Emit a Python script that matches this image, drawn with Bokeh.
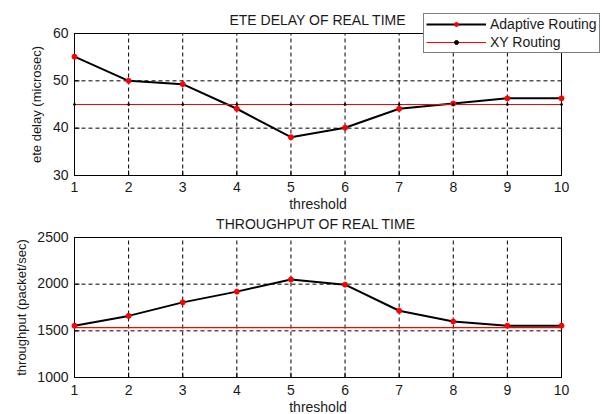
import math
from bokeh.plotting import figure
from bokeh.layouts import column
from bokeh.models import Legend, LegendItem, Range1d
from bokeh.core.properties import value
from bokeh.embed import file_html
from bokeh.resources import INLINE

threshold = [1, 2, 3, 4, 5, 6, 7, 8, 9, 10]
ete_adaptive = [55.1, 50.0, 49.3, 44.1, 38.1, 40.1, 44.1, 45.2, 46.3, 46.3]
ete_xy = [45, 45, 45, 45, 45, 45, 45, 45, 45, 45]
thr_adaptive = [1555, 1660, 1805, 1920, 2050, 1995, 1715, 1600, 1555, 1555]
thr_xy = [1535, 1535, 1535, 1535, 1535, 1535, 1535, 1535, 1535, 1535]
ete_yticks = [30, 40, 50, 60]
thr_yticks = [1000, 1500, 2000, 2500]
series_labels = ["Adaptive Routing", "XY Routing"]
titles = ["ETE DELAY OF REAL TIME", "THROUGHPUT  OF REAL TIME"]
xlabel = "threshold"
ylabels = ["ete delay (microsec)", "throughput (packet/sec)"]

FONT = value("Liberation Sans")
TXT = "#1a1a1a"
FS = value("14px")
FS_Y = value("13px")

W = 602
BOX_L, BOX_R = 74, 561          # pixel layout of the axes boxes
BOX_W = BOX_R - BOX_L
TOP_H, BOT_H = 212, 202


def panel(height, box_top, box_bottom, yticks, ys_adapt, ys_xy, title, ylabel,
          ylabel_dx, xtick_dy, xlabel_dy, xy_marker):
    x_span = threshold[-1] - threshold[0]
    ppx = BOX_W / x_span
    y_span = yticks[-1] - yticks[0]
    ppy = (box_bottom - box_top) / y_span
    p = figure(width=W, height=height, output_backend="svg", toolbar_location=None,
               x_axis_type=None, y_axis_type=None, min_border=0,
               x_range=Range1d(threshold[0] - BOX_L / ppx, threshold[-1] + (W - BOX_R) / ppx),
               y_range=Range1d(yticks[0] - (height - box_bottom) / ppy, yticks[-1] + box_top / ppy))
    p.outline_line_color = None
    p.background_fill_color = "white"
    p.border_fill_color = "white"

    # dashed grid
    p.segment(x0=threshold, x1=threshold, y0=yticks[0], y1=yticks[-1],
              line_color="black", line_width=1, line_dash="4 3")
    p.segment(x0=threshold[0], x1=threshold[-1], y0=yticks, y1=yticks,
              line_color="black", line_width=1, line_dash="4 3")
    # inward ticks
    p.ray(x=threshold, y=yticks[0], length=5, length_units="screen", angle=math.pi / 2,
          line_color="black", line_width=1)
    p.ray(x=threshold[0], y=yticks, length=5, length_units="screen", angle=0,
          line_color="black", line_width=1)
    # axes box
    p.quad(left=threshold[0], right=threshold[-1], bottom=yticks[0], top=yticks[-1],
           fill_color=None, line_color="black", line_width=1)

    a_line = p.line(threshold, ys_adapt, line_color="black", line_width=2)
    a_pts = p.scatter(threshold, ys_adapt, size=5, marker="circle",
                      fill_color="red", line_color="red")
    x_line = p.line(threshold, ys_xy, line_color="red", line_width=1.2)
    x_pts = None
    if xy_marker:
        x_pts = p.scatter(threshold, ys_xy, size=2, marker="circle",
                          fill_color="black", line_color="black")

    xmid = (threshold[0] + threshold[-1]) / 2
    ymid = (yticks[0] + yticks[-1]) / 2
    # tick labels
    p.text(x=threshold, y=yticks[0], text=[str(t) for t in threshold],
           text_align="center", text_baseline="alphabetic", y_offset=xtick_dy,
           text_font=FONT, text_font_size=FS, text_color=TXT)
    p.text(x=threshold[0], y=yticks, text=[str(v) for v in yticks],
           text_align="right", text_baseline="alphabetic", x_offset=-6, y_offset=-1,
           text_font=FONT, text_font_size=FS, text_color=TXT)
    # title and axis labels
    p.text(x=[xmid], y=[yticks[-1]], text=[title], text_align="center",
           text_baseline="alphabetic", y_offset=-14,
           text_font=FONT, text_font_size=FS, text_color=TXT)
    p.text(x=[xmid], y=[yticks[0]], text=[xlabel], text_align="center",
           text_baseline="alphabetic", y_offset=xlabel_dy,
           text_font=FONT, text_font_size=FS, text_color=TXT)
    p.text(x=[threshold[0]], y=[ymid], text=[ylabel], text_align="center",
           text_baseline="middle", angle=math.pi / 2, x_offset=ylabel_dx,
           text_font=FONT, text_font_size=FS_Y, text_color=TXT)
    return p, a_line, a_pts, x_line, x_pts


p1, a_line, a_pts, x_line, x_pts = panel(
    TOP_H, 33, 175, ete_yticks, ete_adaptive, ete_xy, titles[0], ylabels[0],
    -38, 11, 28, True)

legend = Legend(items=[LegendItem(label=series_labels[0], renderers=[a_line, a_pts]),
                       LegendItem(label=series_labels[1], renderers=[x_line, x_pts])],
                location=(423, TOP_H - 53))
legend.label_text_font = "Liberation Sans"
legend.label_text_font_size = "14px"
legend.label_text_color = TXT
legend.glyph_width = 60
legend.glyph_height = 10
legend.label_height = 16
legend.label_standoff = 4
legend.padding = 2
legend.spacing = 2
legend.margin = 0
legend.border_line_color = "black"
legend.border_line_width = 1.3
legend.background_fill_color = "white"
legend.background_fill_alpha = 1
p1.add_layout(legend, "center")

p2, *_ = panel(
    BOT_H, 237 - TOP_H, 377 - TOP_H, thr_yticks, thr_adaptive, thr_xy, titles[1], ylabels[1],
    -53, 12, 29, False)

layout = column(p1, p2, spacing=0)

open("out.html", "w").write(file_html(layout, INLINE))
